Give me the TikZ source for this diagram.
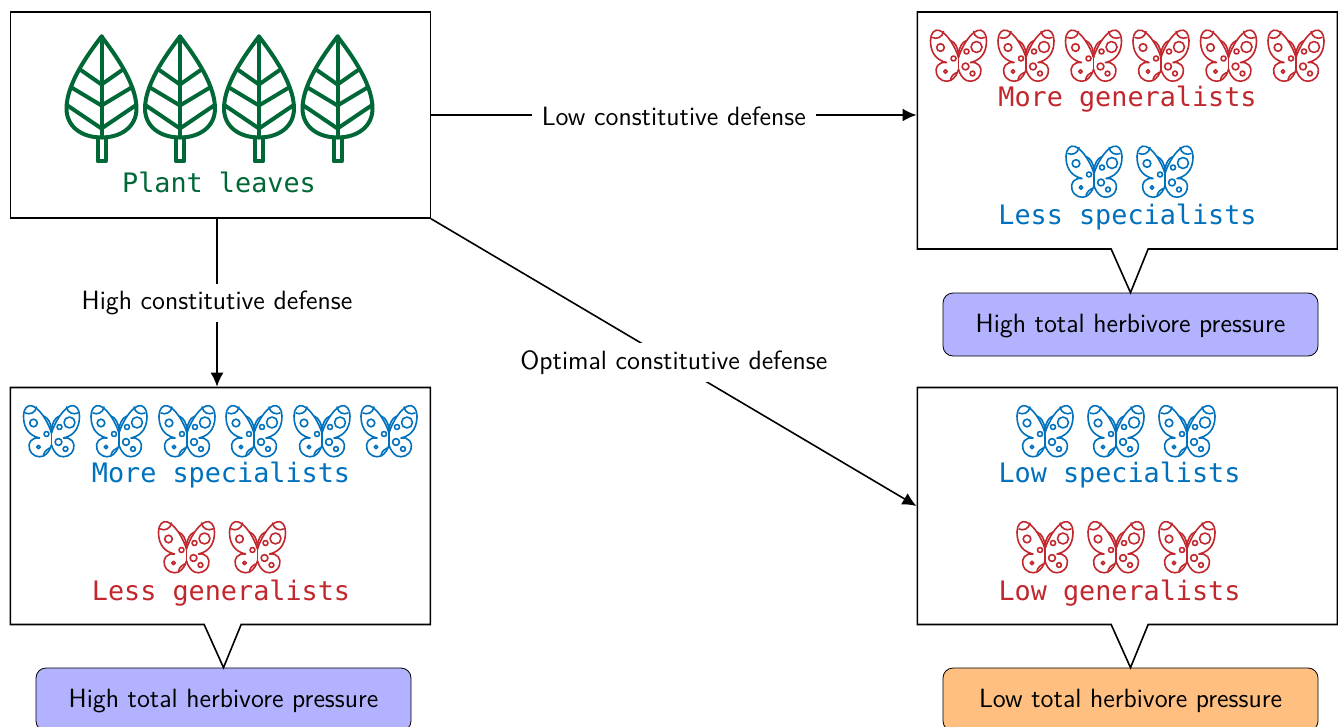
\documentclass[tikz,border=0pt]{standalone}
\usepackage{fontspec}
\setmonofont{DejaVu Sans Mono}
\usetikzlibrary{shapes.callouts,arrows.meta}
\definecolor{leafgreen}{RGB}{0,104,55}
\definecolor{genred}{RGB}{193,39,45}
\definecolor{specblue}{RGB}{0,113,188}
\tikzset{
  sidebox/.style={draw=black,line width=0.8pt,fill=white,rectangle,inner sep=0pt,minimum width=210pt,minimum height=#1},
  callbox/.style={draw=black,line width=0.8pt,fill=white,rectangle callout,inner sep=0pt,minimum width=210pt,minimum height=118.5pt,callout pointer width=18.5pt},
  pressure/.style={draw=black,line width=0.4pt,rounded corners=5pt,minimum width=187.5pt,minimum height=31.5pt,inner sep=0pt,fill=#1,font=\sffamily\fontsize{13.2}{16}\selectfont,text=black},
  monolabel/.style={text=#1,font=\ttfamily\fontsize{13.4}{15}\selectfont,anchor=base,inner sep=0pt},
  edgelabel/.style={fill=white,inner xsep=5pt,inner ysep=3.6pt,font=\sffamily\fontsize{13.2}{16}\selectfont,text=black},
  connector/.style={draw=black,line width=0.8pt,-{Latex[length=7pt,width=6.5pt]}},
  leaf/.pic={
    \begin{scope}[draw=leafgreen,line width=2pt,line join=round,line cap=round]
      \draw (0,0) .. controls (-9,12) and (-35,45) .. (-35,72) .. controls (-35,90) and (-20,101) .. (0,101)
        .. controls (20,101) and (35,90) .. (35,72) .. controls (35,45) and (9,12) .. (0,0) -- cycle;
      \draw (0,0) -- (0,101);
      \draw (-20,34) -- (0,48) -- (20,34);
      \draw (-30,51) -- (0,69) -- (30,51);
      \draw (-34,69) -- (0,92) -- (34,69);
      \draw (-4,101) -- (-4,125) -- (4,125) -- (4,101);
    \end{scope}
  },
  pics/butterfly/.style={code={
    \begin{scope}[draw=#1,line width=0.8pt,line join=round,line cap=round,yshift=-0.5pt]
      \foreach \s in {1,-1}{
        \begin{scope}[xscale=\s]
          \draw (0,2) .. controls (-3,-8) and (-11,-22) .. (-19,-25)
            .. controls (-24,-27) and (-28,-22) .. (-28,-15)
            .. controls (-28,-6) and (-25,4) .. (-12,7)
            .. controls (-20,6) and (-24,12) .. (-22,18)
            .. controls (-20,25) and (-13,27) .. (-8,25)
            .. controls (-4,23) and (-1,18) .. (0,14);
          \draw (0,-2) .. controls (-1,-8) and (-3,-13) .. (-8,-15);
          \draw (-26,-18) .. controls (-22,-16) and (-16,-18) .. (-15,-24);
        \end{scope}
      }
      \draw (0,-3) -- (0,14);
      \draw (-8,24) .. controls (-7,20) and (-4,18) .. (-2,17);
      \draw (-18,-8) circle[radius=3.8];
      \draw (18,-8.5) circle[radius=5.5];
      \draw (8,-4) circle[radius=2.5];
      \draw (-5,3) circle[radius=2.5];
      \draw (7,11) circle[radius=3.4];
      \draw (14,18) circle[radius=2.4];
      \draw (-13,16) circle[radius=1.8];
    \end{scope}
  }},
}
\begin{document}
\begin{tikzpicture}[x=0.5pt,y=-0.5pt]
\useasboundingbox (0,0) rectangle (1338,727);
% pressure boxes
\node[pressure={blue!30},text depth=0pt,text height=8pt] (p1) at (1130.5,324.5) {High total herbivore pressure};
\node[pressure={blue!30},text depth=0pt,text height=8pt] (p2) at (223.5,699.5) {High total herbivore pressure};
\node[pressure={orange!50},text depth=0pt,text height=8pt] (p3) at (1130.5,699.5) {Low total herbivore pressure};
% main boxes
\node[sidebox=103pt] (plant) at (220.3,115) {};
\node[callbox,callout absolute pointer={(p1.north)}] (tr) at (1127.3,130.5) {};
\node[callbox,callout absolute pointer={(p2.north)}] (bl) at (220.3,506) {};
\node[callbox,callout absolute pointer={(p3.north)}] (br) at (1127.3,506) {};
% leaves
\foreach \x in {101.5,180,259,337.5} \pic at (\x,36.5) {leaf};
\node[monolabel=leafgreen] (t1) at (219,193) {Plant leaves};
% top right
\foreach \x in {958.5,1026,1093.5,1161,1228.5,1296} \pic at (\x,54.5) {butterfly=genred};
\node[monolabel=genred] (t2) at (1127.5,107) {More generalists};
\foreach \x in {1094,1165} \pic at (\x,170.5) {butterfly=specblue};
\node[monolabel=specblue] (t3) at (1127.5,225) {Less specialists};
% bottom left
\foreach \x in {51.5,119,187,254,322,389} \pic at (\x,430) {butterfly=specblue};
\node[monolabel=specblue] (t4) at (221,482) {More specialists};
\foreach \x in {186.5,257.5} \pic at (\x,546) {butterfly=genred};
\node[monolabel=genred] (t5) at (221,600) {Less generalists};
% bottom right
\foreach \x in {1045,1116,1187} \pic at (\x,430) {butterfly=specblue};
\node[monolabel=specblue] (t6) at (1119.5,482) {Low specialists};
\foreach \x in {1045,1116,1187} \pic at (\x,546) {butterfly=genred};
\node[monolabel=genred] (t7) at (1119.5,600) {Low generalists};
% connectors
\draw[connector] (plant.east) -- node[edgelabel,pos=0.5,yshift=-0.5pt] (l1) {Low constitutive defense} (plant.east -| tr.west);
\draw[connector] ([xshift=-1.65pt]plant.south) -- node[edgelabel,pos=0.5] (l2) {High constitutive defense} ([xshift=-1.65pt]bl.north);
\draw[connector] (plant.south east) -- node[edgelabel,pos=0.5] (l3) {Optimal constitutive defense} (br.west);
\end{tikzpicture}
\end{document}
